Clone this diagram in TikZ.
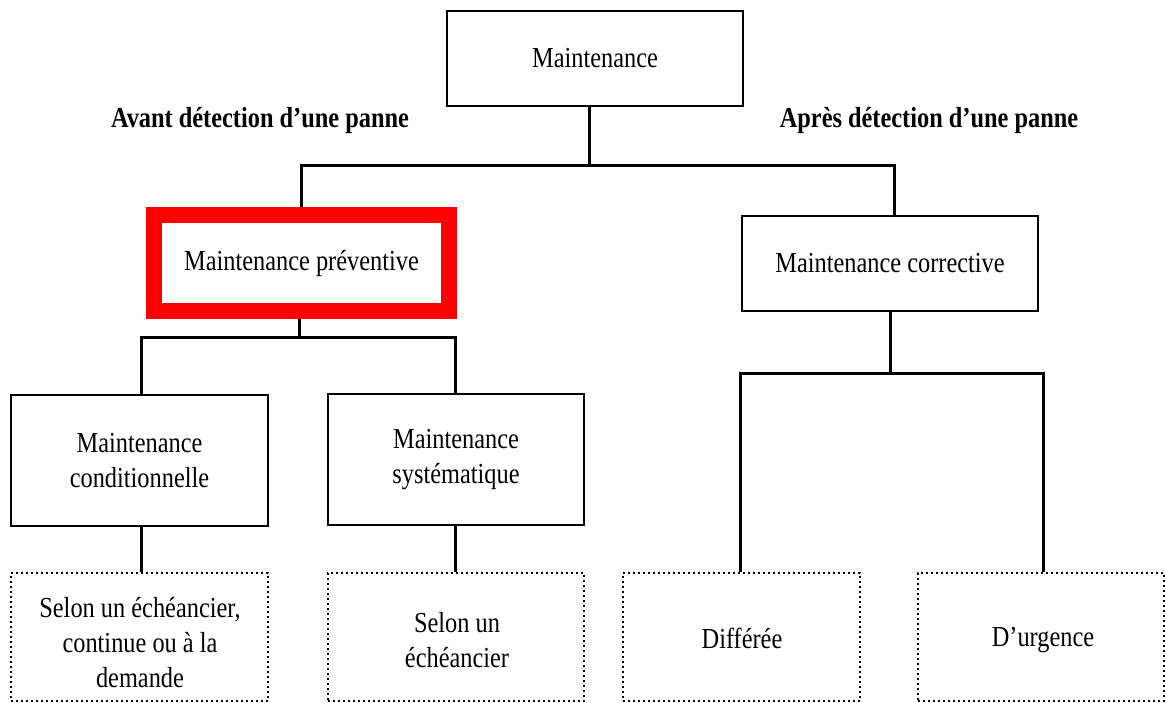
\documentclass[tikz,border=0pt]{standalone}
\usepackage{fontspec}
\setmainfont{Liberation Serif}[FakeStretch=0.84]
\usetikzlibrary{backgrounds}
\begin{document}
\begin{tikzpicture}[x=1pt,y=-1pt,
  box/.style={draw=black,line width=2.4pt,rectangle,inner sep=0pt,align=center,
    font=\fontsize{29}{35}\selectfont},
  dbox/.style={draw=black,line width=2pt,dash pattern=on 2pt off 3pt,rectangle,inner sep=0pt,align=center,
    font=\fontsize{29}{35}\selectfont},
  redbox/.style={draw=red,line width=16pt,rectangle,inner sep=0pt,align=center,
    font=\fontsize{29}{35}\selectfont},
  txt/.style={font=\fontsize{29}{35}\selectfont,align=center,inner sep=0pt},
  lbl/.style={font=\fontsize{29}{35}\selectfont\bfseries,inner sep=0pt},
  conn/.style={draw=black,line width=3pt}]
\useasboundingbox (0,0) rectangle (1166,702);

% nodes
\node[box,minimum width=296pt,minimum height=95pt] (top) at (595,58.5) {Maintenance};
\node[lbl] (avant) at (260,121) {Avant détection d’une panne};
\node[lbl] (apres) at (929,121) {Après détection d’une panne};
\node[redbox,minimum width=295pt,minimum height=95.5pt] (prev) at (301.5,263) {\raisebox{-3pt}{Maintenance préventive}};
\node[box,minimum width=296pt,minimum height=95pt] (corr) at (890,263.5) {\raisebox{-2pt}{Maintenance corrective}};
\node[box,minimum width=257pt,minimum height=131pt] (cond) at (139.5,460.5) {Maintenance\\conditionnelle};
\node[box,minimum width=256pt,minimum height=131pt] (syst) at (456,459.5) {Maintenance\\systématique};
\node[dbox,minimum width=257pt,minimum height=128pt] (d1) at (139.5,637) {};
\node[dbox,minimum width=256pt,minimum height=128pt] (d2) at (456,637) {};
\node[dbox,minimum width=237pt,minimum height=128pt] (d3) at (741.5,637) {};
\node[dbox,minimum width=246pt,minimum height=128pt] (d4) at (1041,637) {};
\node[txt] (t1) at (140,643) {Selon un échéancier,\\continue ou à la\\demande};
\node[txt] (t2) at (457,640) {Selon un\\échéancier};
\node[txt] (t3) at (742,638) {Différée};
\node[txt] (t4) at (1043,640) {D’urgence};

% connectors (behind the boxes)
\begin{scope}[on background layer]
\fill[white] (0,0) rectangle (1166,702);
\coordinate (j1) at (589,165);
\coordinate (j2) at (299,337);
\coordinate (j3) at (890,373);
\draw[conn] ([xshift=-6pt]top.south) -- (j1);
\draw[conn] (prev.north) |- (j1) -| ([xshift=4pt]corr.north);
\draw[conn] ([xshift=-2.5pt]prev.south) -- (j2);
\draw[conn] ([xshift=1.5pt]cond.north) |- (j2) -| ([xshift=-1pt]syst.north);
\draw[conn] ([xshift=1.5pt]cond.south) -- ([xshift=1.5pt]d1.north);
\draw[conn] ([xshift=-1pt]syst.south) -- ([xshift=-1pt]d2.north);
\draw[conn] (corr.south) -- (j3);
\draw[conn] ([xshift=-1.5pt]d3.north) |- (j3) -| ([xshift=2pt]d4.north);
\end{scope}
\end{tikzpicture}
\end{document}
